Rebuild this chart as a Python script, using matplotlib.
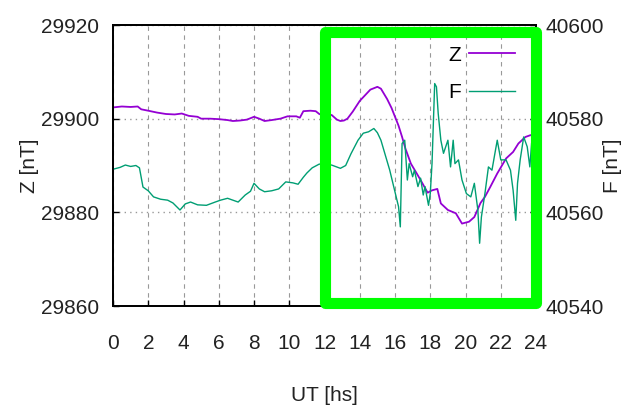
import matplotlib
matplotlib.use("Agg")
import matplotlib.pyplot as plt
from matplotlib.patches import Rectangle

plt.rcParams['font.family'] = ['Liberation Sans', 'DejaVu Sans']

# Z component (left axis), hours UT vs nT
z_time = [0.0, 0.5, 1.0, 1.4, 1.6, 2.0, 2.5, 3.0, 3.5, 3.9, 4.3, 4.8, 5.0, 5.5,
          6.0, 6.5, 6.8, 7.2, 7.6, 8.0, 8.3, 8.6, 9.0, 9.5, 9.9, 10.4, 10.6,
          10.8, 11.2, 11.5, 11.7, 12.0, 12.4, 12.7, 12.9, 13.1, 13.3, 13.6,
          14.0, 14.3, 14.6, 15.0, 15.2, 15.55, 15.8, 16.0, 16.2, 16.4, 16.6,
          16.9, 17.2, 17.45, 17.85, 18.1, 18.4, 18.6, 19.0, 19.45, 19.8, 20.2,
          20.5, 20.85, 21.1, 21.4, 21.8, 22.3, 22.7, 23.0, 23.4, 23.7, 24.0]
z_vals = [29902.4, 29902.6, 29902.5, 29902.6, 29902.0, 29901.7, 29901.3,
          29901.0, 29900.9, 29901.1, 29900.6, 29900.4, 29900.0, 29900.0,
          29899.9, 29899.7, 29899.5, 29899.6, 29899.8, 29900.4, 29900.0,
          29899.5, 29899.7, 29900.0, 29900.5, 29900.5, 29900.2, 29901.6,
          29901.7, 29901.6, 29901.0, 29900.6, 29900.8, 29899.8, 29899.5,
          29899.6, 29900.0, 29901.5, 29903.8, 29905.0, 29906.2, 29906.8,
          29906.4, 29904.2, 29902.3, 29900.4, 29898.5, 29896.1, 29893.5,
          29890.4, 29888.5, 29886.9, 29884.2, 29884.7, 29885.0, 29881.9,
          29880.5, 29879.8, 29877.6, 29878.0, 29879.0, 29882.0, 29883.3,
          29885.4, 29888.3, 29891.5, 29892.9, 29894.7, 29896.1, 29896.5,
          29895.8]

# total field F (right axis)
f_time = [0.0, 0.4, 0.7, 1.0, 1.3, 1.5, 1.7, 2.0, 2.3, 2.7, 3.1, 3.4, 3.8, 4.1,
          4.4, 4.8, 5.3, 5.8, 6.1, 6.5, 6.8, 7.1, 7.5, 7.8, 8.0, 8.3, 8.6, 9.0,
          9.4, 9.8, 10.2, 10.5, 10.8, 11.0, 11.3, 11.5, 11.7, 12.4, 12.9, 13.2,
          13.5, 13.9, 14.2, 14.5, 14.8, 15.0, 15.2, 15.7, 16.2, 16.3, 16.4,
          16.55, 16.7, 16.8, 17.0, 17.1, 17.3, 17.45, 17.6, 17.7, 17.9, 18.0,
          18.1, 18.25, 18.35, 18.45, 18.6, 18.75, 19.0, 19.15, 19.3, 19.4,
          19.6, 19.8, 20.05, 20.3, 20.5, 20.7, 20.8, 20.9, 21.1, 21.3, 21.5,
          21.7, 21.8, 22.0, 22.3, 22.55, 22.7, 22.85, 22.95, 23.1, 23.3, 23.5,
          23.65, 23.75, 23.9]
f_vals = [40569.2, 40569.6, 40570.1, 40569.8, 40570.0, 40569.5, 40565.4,
          40564.6, 40563.3, 40562.8, 40562.6, 40562.0, 40560.5, 40561.8,
          40562.2, 40561.6, 40561.5, 40562.2, 40562.6, 40563.0, 40562.6,
          40562.2, 40563.7, 40564.5, 40566.2, 40565.0, 40564.4, 40564.6,
          40565.0, 40566.5, 40566.3, 40566.0, 40567.5, 40568.4, 40569.5,
          40569.9, 40570.3, 40570.1, 40569.4, 40570.0, 40572.5, 40575.4,
          40576.9, 40577.2, 40577.9, 40577.0, 40575.4, 40569.0, 40561.2,
          40556.9, 40574.7, 40575.4, 40566.9, 40570.4, 40567.6, 40569.0,
          40565.5, 40567.3, 40563.7, 40565.5, 40561.5, 40564.0, 40570.5,
          40587.5, 40586.8, 40581.1, 40575.4, 40572.6, 40575.4, 40569.7,
          40575.4, 40570.4, 40571.2, 40566.9, 40564.0, 40563.3, 40566.2,
          40560.5, 40553.4, 40559.0, 40564.0, 40569.7, 40569.0, 40573.3,
          40575.4, 40571.2, 40571.2, 40569.0, 40564.7, 40558.3, 40566.2,
          40571.2, 40576.1, 40574.0, 40569.7, 40574.8, 40573.3]

x_ticks = list(range(0, 25, 2))
z_ticks = [29860, 29880, 29900, 29920]
f_ticks = [40540, 40560, 40580, 40600]

fig = plt.figure(figsize=(6.23, 4.16), dpi=100)
ax = fig.add_axes([0.1814, 0.2644, 0.679, 0.6755])
ax2 = ax.twinx()

lz, = ax.plot(z_time, z_vals, color='#9400D3', lw=1.3, label='Z')
lf, = ax2.plot(f_time, f_vals, color='#009E73', lw=1.0, label='F')

ax.set_xlim(0, 24)
ax.set_ylim(29860, 29920)
ax2.set_ylim(40540, 40600)
ax.set_xticks(x_ticks)
ax.set_yticks(z_ticks)
ax2.set_yticks(f_ticks)

ax.xaxis.grid(True, color='#999999', linestyle=(0, (4, 4)), lw=0.8)
ax.yaxis.grid(True, color='#999999', linestyle=(0, (1, 3)), lw=1.0)

for a in (ax, ax2):
    a.tick_params(direction='in', length=4, width=1, labelsize=15,
                  labelcolor='#222222')
    for s in a.spines.values():
        s.set_linewidth(1.3)
ax.tick_params(axis='x', pad=20)
ax.tick_params(axis='y', pad=10)
ax2.tick_params(axis='y', pad=7)

ax.set_xlabel('UT [hs]', fontsize=15, color='#222222')
ax.set_ylabel('Z [nT]', fontsize=15, color='#222222')
ax2.set_ylabel('F [nT]', fontsize=15, color='#222222', rotation=90)
ax.xaxis.set_label_coords(0.499, -0.285)
ax.yaxis.set_label_coords(-0.175, 0.5)
ax2.yaxis.set_label_coords(1.158, 0.5)

ax2.legend(handles=[lz, lf], loc='upper right', bbox_to_anchor=(0.995, 0.993),
           frameon=False, markerfirst=False, fontsize=15, handlelength=2.2,
           labelspacing=0.9, handletextpad=0.4)

rect = Rectangle((0.502, 0.009), 0.499, 0.966, transform=ax.transAxes,
                 fill=False, edgecolor='#00FF00', lw=8, joinstyle='round',
                 clip_on=False, zorder=10)
ax2.add_patch(rect)

fig.savefig('out.png', dpi=100)
